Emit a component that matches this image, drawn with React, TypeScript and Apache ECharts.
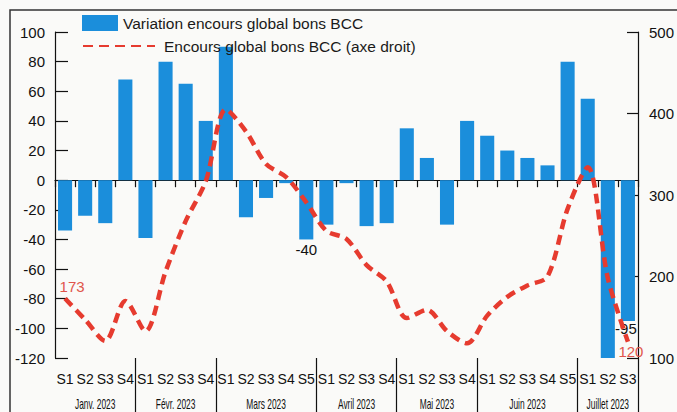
import React, { useEffect, useRef } from "react";
import * as echarts from "echarts";

const monthNames = ["Janv. 2023", "Févr. 2023", "Mars 2023", "Avril 2023", "Mai 2023", "Juin 2023", "Juillet 2023"];
const weeksPerMonth = [4, 4, 5, 4, 4, 5, 3];

// Variation encours global bons BCC (left axis)
const variation = [
  -34, -24, -29, 68,
  -39, 80, 65, 40,
  90, -25, -12, -2, -40,
  -30, -2, -31, -29,
  35, 15, -30, 40,
  30, 20, 15, 10, 80,
  55, -120, -95,
];

// Encours global bons BCC (right axis)
const encours = [
  173, 147, 121, 170,
  133, 206, 268, 317,
  405, 378, 338, 322, 291,
  256, 246, 214, 194,
  149, 159, 133, 118,
  152, 175, 189, 200, 283,
  334, 198, 120,
];

const leftTicks = { min: -120, max: 100, interval: 20 };
const rightTicks = { min: 100, max: 500, interval: 100 };

const FONT = "'Liberation Sans', Arial, sans-serif";

export default function App() {
  const ref = useRef<HTMLDivElement>(null);

  useEffect(() => {
    document.body.style.margin = "0";
    if (!ref.current) return;
    const chart = echarts.init(ref.current, null, { renderer: "svg" });

    const cats: string[] = [];
    const monthStart: number[] = [];
    monthNames.forEach((m, mi) => {
      monthStart.push(cats.length);
      for (let w = 1; w <= weeksPerMonth[mi]; w++) cats.push(m + "|S" + w);
    });

    const barData = variation.map((v, i) => {
      if (i === 12) {
        return { value: v, label: { show: true, position: "bottom", distance: 3, color: "#111", fontSize: 15, fontFamily: FONT, formatter: "{c}" } };
      }
      if (i === 28) {
        return { value: v, label: { show: true, position: "bottom", distance: 0, offset: [-2, 0], color: "#111", fontSize: 15, fontFamily: FONT, formatter: "{c}" } };
      }
      return v;
    });

    const lineData = encours.map((v, i) => {
      if (i === 0) {
        return { value: v, label: { show: true, position: "top", distance: 4, offset: [7, 0], color: "#e0554c", fontSize: 15, fontFamily: FONT, formatter: "{c}" } };
      }
      if (i === encours.length - 1) {
        return { value: v, label: { show: true, position: "bottom", distance: 2, offset: [3, 0], color: "#e0554c", fontSize: 15, fontFamily: FONT, formatter: "{c}" } };
      }
      return v;
    });

    const boundarySet = new Set(monthStart.slice(1));

    chart.setOption({
      animation: false,
      backgroundColor: "#fafaf8",
      textStyle: { fontFamily: FONT },
      grid: { left: 55, right: 38, top: 32, bottom: 54, containLabel: false },
      legend: [
        {
          data: [{ name: "Variation encours global bons BCC", icon: "rect" }],
          left: 82,
          top: 15,
          padding: 0,
          itemWidth: 36,
          itemHeight: 16,
          textStyle: { fontSize: 15.5, color: "#1a1a1a", fontFamily: FONT },
          selectedMode: false,
        },
        {
          data: ["Encours global bons BCC (axe droit)"],
          left: 82,
          top: 38,
          padding: 0,
          itemWidth: 72,
          itemHeight: 16,
          textStyle: { fontSize: 15.5, color: "#1a1a1a", fontFamily: FONT, padding: [0, 0, 0, 4] },
          selectedMode: false,
        },
      ],
      xAxis: [
        {
          type: "category",
          data: cats,
          position: "bottom",
          axisLine: { show: true, onZero: true, onZeroAxisIndex: 0, lineStyle: { color: "#111", width: 1.2 } },
          axisTick: { show: true, length: 7, interval: 0, lineStyle: { color: "#111", width: 1.2 } },
          axisLabel: { show: false },
          splitLine: { show: false },
        },
        {
          type: "category",
          data: cats,
          position: "bottom",
          axisLine: { show: false, onZero: false },
          axisTick: {
            show: true,
            length: 56,
            interval: (idx: number) => boundarySet.has(idx),
            lineStyle: { color: "#111", width: 1.2 },
          },
          axisLabel: {
            show: true,
            interval: 0,
            margin: 14,
            fontSize: 14,
            color: "#111",
            fontFamily: FONT,
            formatter: (v: string) => v.split("|")[1],
          },
          splitLine: { show: false },
        },
      ],
      yAxis: [
        {
          type: "value",
          position: "left",
          min: leftTicks.min,
          max: leftTicks.max,
          interval: leftTicks.interval,
          axisLine: { show: true, onZero: false, lineStyle: { color: "#111", width: 1.2 } },
          axisTick: { show: true, inside: true, length: 13, lineStyle: { color: "#111", width: 1.2 } },
          axisLabel: { fontSize: 15, color: "#111", margin: 10, fontFamily: FONT },
          splitLine: { show: false },
        },
        {
          type: "value",
          position: "right",
          min: rightTicks.min,
          max: rightTicks.max,
          interval: rightTicks.interval,
          axisLine: { show: true, onZero: false, lineStyle: { color: "#111", width: 1.2 } },
          axisTick: { show: true, inside: true, length: 11, lineStyle: { color: "#111", width: 1.2 } },
          axisLabel: { fontSize: 15, color: "#111", margin: 11, fontFamily: FONT },
          splitLine: { show: false },
        },
      ],
      series: [
        {
          name: "Variation encours global bons BCC",
          type: "bar",
          xAxisIndex: 0,
          yAxisIndex: 0,
          data: barData,
          barWidth: "70%",
          itemStyle: { color: "#1b8edb" },
          z: 2,
        },
        {
          name: "Encours global bons BCC (axe droit)",
          type: "line",
          xAxisIndex: 0,
          yAxisIndex: 1,
          data: lineData,
          smooth: 0.3,
          symbol: "circle",
          symbolSize: 1,
          showSymbol: true,
          lineStyle: { color: "#e63b2f", width: 4.5, type: [10, 6] },
          itemStyle: { color: "rgba(0,0,0,0)", borderWidth: 0 },
          z: 3,
        },
      ],
    });

    const graphics: any[] = [
      {
        type: "rect",
        shape: { x: 10, y: 10, width: 700, height: 420 },
        style: { fill: "none", stroke: "#333", lineWidth: 1.5 },
        silent: true,
      },
    ];
    monthNames.forEach((m, mi) => {
      const s = monthStart[mi];
      const e = s + weeksPerMonth[mi] - 1;
      const x1 = chart.convertToPixel({ xAxisIndex: 1 }, cats[s]) as unknown as number;
      const x2 = chart.convertToPixel({ xAxisIndex: 1 }, cats[e]) as unknown as number;
      const cx = (x1 + x2) / 2;
      graphics.push({
        type: "text",
        x: cx,
        y: 404,
        scaleX: 0.6,
        style: {
          text: m,
          fontSize: 14,
          fontFamily: FONT,
          fill: "#111",
          align: "center",
          verticalAlign: "middle",
        },
        silent: true,
      });
    });
    chart.setOption({ graphic: graphics });

    return () => chart.dispose();
  }, []);

  return <div ref={ref} style={{ width: 677, height: 412 }} />;
}
